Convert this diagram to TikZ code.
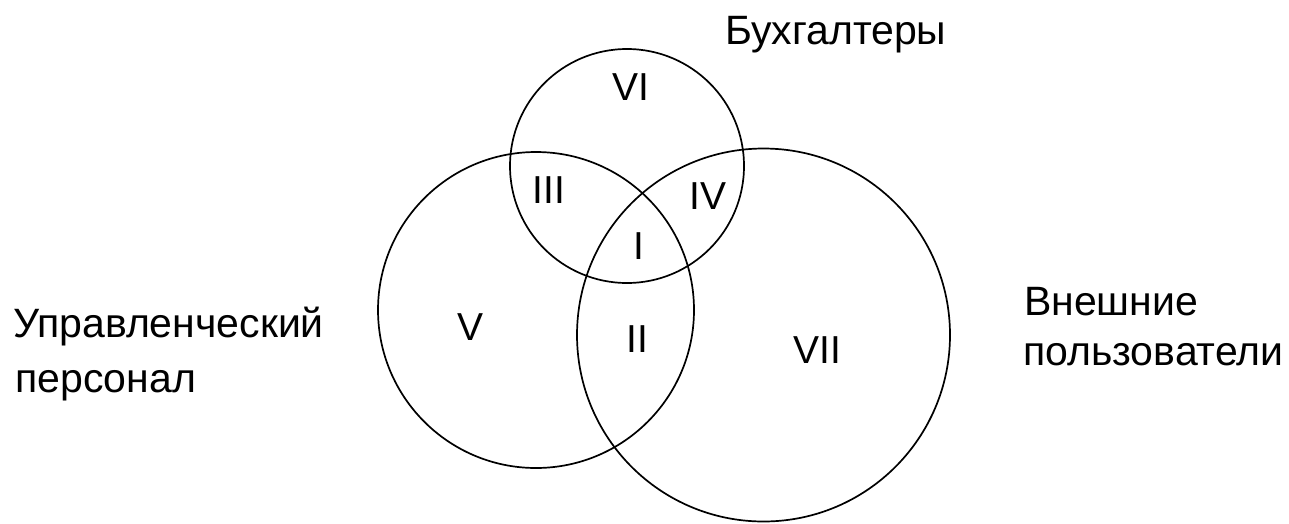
\documentclass[tikz,border=0pt]{standalone}
\usepackage{fontspec}
\setmainfont{Liberation Sans}
\begin{document}
\begin{tikzpicture}[x=1pt,y=-1pt,
  setcirc/.style={circle,draw,line width=1.7pt,inner sep=0pt,minimum size=#1},
  roman/.style={anchor=base,inner sep=0pt,font=\fontsize{39}{46}\selectfont},
  lbl/.style={anchor=base west,inner sep=0pt,font=\fontsize{41}{48}\selectfont}]
\useasboundingbox (0,0) rectangle (1289,523);
\node[setcirc=234pt] (acc) at (627,166) {};
\node[setcirc=316pt] (mgmt) at (536,310) {};
\node[setcirc=373pt] (ext) at (763.5,335) {};
\node[roman] (r6) at (631,100) {VI};
\node[roman] (r3) at (549,203) {III};
\node[roman] (r4) at (708,209) {IV};
\node[roman] (r1) at (639,259) {I};
\node[roman] (r5) at (470,340) {V};
\node[roman] (r2) at (637,352) {II};
\node[roman] (r7) at (817,363) {VII};
\node[lbl] (tacc) at (725,44) {Бухгалтеры};
\node[lbl] (tmgmt1) at (13,337) {Управленческий};
\node[lbl] (tmgmt2) at (15,392) {персонал};
\node[lbl] (text1) at (1024,315) {Внешние};
\node[lbl] (text2) at (1023,365) {пользователи};
\end{tikzpicture}
\end{document}
